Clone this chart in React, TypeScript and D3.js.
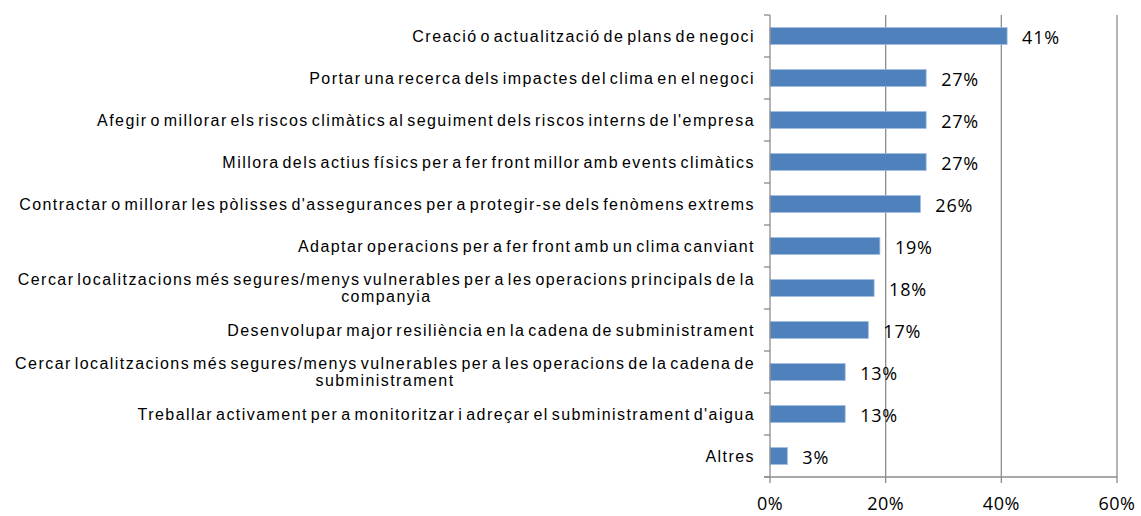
import React, { useEffect, useRef } from "react";
import * as d3 from "d3";

const categories: string[][] = [
  ["Creació o actualització de plans de negoci"],
  ["Portar una recerca dels impactes del clima en el negoci"],
  ["Afegir o millorar els riscos climàtics al seguiment dels riscos interns de l'empresa"],
  ["Millora dels actius físics per a fer front millor amb events climàtics"],
  ["Contractar o millorar les pòlisses d'assegurances per a protegir-se dels fenòmens extrems"],
  ["Adaptar operacions per a fer front amb un clima canviant"],
  ["Cercar localitzacions més segures/menys vulnerables per a les operacions principals de la", "companyia"],
  ["Desenvolupar major resiliència en la cadena de subministrament"],
  ["Cercar localitzacions més segures/menys vulnerables per a les operacions de la cadena de", "subministrament"],
  ["Treballar activament per a monitoritzar i adreçar el subministrament d'aigua"],
  ["Altres"],
];
const values: number[] = [41, 27, 27, 27, 26, 19, 18, 17, 13, 13, 3];
const xTicks: number[] = [0, 20, 40, 60];

const W = 1141;
const H = 516;
const M = { left: 770, right: 1117, top: 15, bottom: 477 };

export default function App() {
  const ref = useRef<SVGSVGElement>(null);
  useEffect(() => {
    const svg = d3.select(ref.current);
    svg.selectAll("*").remove();
    const x = d3.scaleLinear().domain([0, 60]).range([M.left, M.right]);
    const y = d3
      .scaleBand<number>()
      .domain(d3.range(values.length))
      .range([M.top, M.bottom])
      .paddingInner(0.6)
      .paddingOuter(0.3);
    const yb = d3
      .scaleBand<number>()
      .domain(d3.range(values.length))
      .range([M.top, M.bottom]);

    const grid = "#8c8c8c";
    svg
      .append("g")
      .selectAll("line")
      .data(xTicks.filter((t) => t > 0))
      .join("line")
      .attr("x1", (d) => x(d))
      .attr("x2", (d) => x(d))
      .attr("y1", M.top)
      .attr("y2", M.bottom)
      .attr("stroke", grid)
      .attr("stroke-width", 1.3);

    svg
      .append("g")
      .selectAll("rect")
      .data(values)
      .join("rect")
      .attr("x", x(0))
      .attr("y", (_, i) => y(i)!)
      .attr("width", (d) => x(d) - x(0))
      .attr("height", y.bandwidth())
      .attr("fill", "#4f81bd")
      .attr("stroke", "#9dbbe0")
      .attr("stroke-width", 0.8);

    svg
      .append("line")
      .attr("x1", M.left)
      .attr("x2", M.left)
      .attr("y1", M.top)
      .attr("y2", M.bottom)
      .attr("stroke", grid)
      .attr("stroke-width", 1.3);
    svg
      .append("line")
      .attr("x1", M.left - 6)
      .attr("x2", M.right)
      .attr("y1", M.bottom)
      .attr("y2", M.bottom)
      .attr("stroke", grid)
      .attr("stroke-width", 1.3);
    svg
      .append("g")
      .selectAll("line")
      .data(d3.range(values.length + 1))
      .join("line")
      .attr("x1", M.left - 6)
      .attr("x2", M.left)
      .attr("y1", (i) => M.top + i * yb.step())
      .attr("y2", (i) => M.top + i * yb.step())
      .attr("stroke", grid)
      .attr("stroke-width", 1.3);
    svg
      .append("g")
      .selectAll("line")
      .data(xTicks)
      .join("line")
      .attr("x1", (d) => x(d))
      .attr("x2", (d) => x(d))
      .attr("y1", M.bottom)
      .attr("y2", M.bottom + 6)
      .attr("stroke", grid)
      .attr("stroke-width", 1.3);

    svg
      .append("g")
      .selectAll("text")
      .data(xTicks)
      .join("text")
      .attr("x", (d) => x(d))
      .attr("y", 510)
      .attr("text-anchor", "middle")
      .attr("font-family", "'Open Sans', sans-serif")
      .attr("font-size", 18)
      .attr("letter-spacing", 0.5)
      .attr("fill", "#000")
      .text((d) => `${d}%`);

    svg
      .append("g")
      .selectAll("text")
      .data(values)
      .join("text")
      .attr("x", (d) => x(d) + 15)
      .attr("y", (_, i) => yb(i)! + yb.bandwidth() / 2 + 8)
      .attr("font-family", "'Open Sans', sans-serif")
      .attr("font-size", 18)
      .attr("letter-spacing", 0.8)
      .attr("fill", "#000")
      .text((d) => `${d}%`);

    const cg = svg.append("g");
    categories.forEach((lines, i) => {
      const cy = yb(i)! + yb.bandwidth() / 2;
      const lh = 17;
      const t = cg
        .append("text")
        .attr("font-family", "'Liberation Sans', Arial, sans-serif")
        .attr("font-size", 16)
        .attr("letter-spacing", 1.45)
        .attr("word-spacing", -3)
        .attr("fill", "#000");
      if (lines.length === 1) {
        t.append("tspan")
          .attr("x", 755)
          .attr("y", cy + 5.5)
          .attr("text-anchor", "end")
          .text(lines[0]);
      } else {
        const tmp = t
          .append("tspan")
          .attr("x", 755)
          .attr("y", cy - lh / 2 + 5.5)
          .attr("text-anchor", "end")
          .text(lines[0]);
        const w = (tmp.node() as SVGTSpanElement).getComputedTextLength();
        const center = 755 - w / 2;
        lines.slice(1).forEach((ln, k) => {
          t.append("tspan")
            .attr("x", center)
            .attr("y", cy - lh / 2 + 5.5 + lh * (k + 1))
            .attr("text-anchor", "middle")
            .text(ln);
        });
      }
    });
  }, []);
  return (
    <svg
      ref={ref}
      width={W}
      height={H}
      style={{ position: "absolute", left: 0, top: 0, background: "#fff" }}
    />
  );
}
